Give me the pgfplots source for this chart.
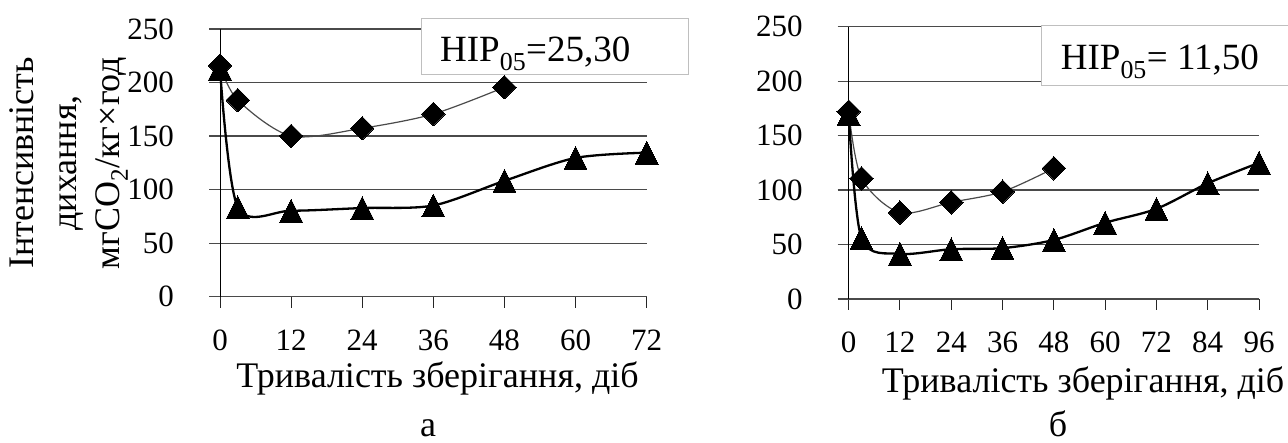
\documentclass[border=0pt]{standalone}
\usepackage{fontspec}
\setmainfont{Liberation Serif}
\usepackage{pgfplots}
\usepackage{pgfplotstable}
\pgfplotsset{compat=1.18}
\definecolor{gridcol}{HTML}{4A4A4A}
\definecolor{boxcol}{HTML}{BFBFBF}

\pgfplotstableread{
x y
0 215.7
3 183.6
12 150.1
24 157.3
36 170.6
48 195.6
}\dataAd
\pgfplotstableread{
x y
0 213
3 83.5
12 80.3
24 82.8
36 85.2
48 108.2
60 129.6
72 134.5
}\dataAt
\pgfplotstableread{
x y
0 172
3 110.8
12 79.3
24 88.8
36 98.5
48 120
}\dataBd
\pgfplotstableread{
x y
0 170
3 55.7
12 41.5
24 45.7
36 46.7
48 54.2
60 70
72 82.8
84 106.2
96 125
}\dataBt

\pgfplotsset{
  mychart/.style={
    scale only axis,
    clip=false,
    axis x line*=bottom,
    axis y line*=left,
    x axis line style={draw=gridcol, line width=1.3pt, -},
    y axis line style={draw=black, line width=1pt, -},
    ymin=0, ymax=250, ytick={0,50,...,250},
    tick align=outside,
    major tick length=11pt,
    ymajorgrids,
    grid style={draw=gridcol, line width=1.3pt},
    ytick style={draw=gridcol, line width=1.3pt},
    xtick style={draw=black!85, line width=1pt},
    tick label style={font=\fontsize{31}{36}\selectfont},
    /pgf/number format/assume math mode=true,
    yticklabel style={anchor=east, inner sep=0pt, xshift=-35pt},
    xticklabel style={anchor=north, inner sep=0pt, yshift=-22pt},
  },
  dser/.style={smooth, tension=0.5, draw=gridcol, line width=1.2pt,
    mark=square*, mark size=8.3pt, mark options={rotate=45, fill=black, draw=black, line width=0pt, solid}},
  tser/.style={smooth, tension=0.5, draw=black, line width=2.3pt,
    mark=triangle*, mark size=15.2pt, mark options={xscale=0.866, yshift=-3.8pt, fill=black, draw=black, line width=0pt, solid}},
}

\begin{document}
\begin{tikzpicture}[x=1pt,y=1pt]
\useasboundingbox (0,0) rectangle (1288,443);

\begin{axis}[mychart,
  at={(220pt,146.3pt)}, anchor=south west,
  width=426.7pt, height=267.7pt,
  xmin=0, xmax=72, xtick={0,12,...,72}]
\addplot[dser] table[x=x,y=y] {\dataAd};
\addplot[tser] table[x=x,y=y] {\dataAt};
\end{axis}

\begin{axis}[mychart,
  at={(848.7pt,144pt)}, anchor=south west,
  width=410.3pt, height=272.3pt,
  xmin=0, xmax=96, xtick={0,12,...,96}]
\addplot[dser] table[x=x,y=y] {\dataBd};
\addplot[tser] table[x=x,y=y] {\dataBt};
\end{axis}

% annotation boxes
\fill[white] (421.7,368) rectangle (688,424.5);
\draw[boxcol, line width=1pt] (421.7,368) rectangle (688,424.5);
\node[anchor=base west, inner sep=0pt, font=\fontsize{37}{42}\selectfont] at (440,381.3) {НІР\textsubscript{05}=25,30};
\fill[white] (1041.7,357) rectangle (1300,417.3);
\draw[boxcol, line width=1pt] (1041.7,357) rectangle (1300,417.3);
\node[anchor=base west, inner sep=0pt, font=\fontsize{37}{42}\selectfont] at (1060.7,373) {НІР\textsubscript{05}= 11,50};

% axis titles
\node[anchor=base, inner sep=0pt, font=\fontsize{36}{42}\selectfont] at (437.5,55) {Тривалість зберігання, діб};
\node[anchor=base, inner sep=0pt, font=\fontsize{36}{42}\selectfont] at (1083,50) {Тривалість зберігання, діб};
\node[rotate=90, align=center, inner sep=0pt, font=\fontsize{36}{43}\selectfont] at (69,280) {Інтенсивність\\дихання,\\мгCO\textsubscript{2}/кг×год};

\node[anchor=base, inner sep=0pt, font=\fontsize{36}{42}\selectfont] at (428,6) {а};
\node[anchor=base, inner sep=0pt, font=\fontsize{36}{42}\selectfont] at (1058,6) {б};
\end{tikzpicture}
\end{document}
